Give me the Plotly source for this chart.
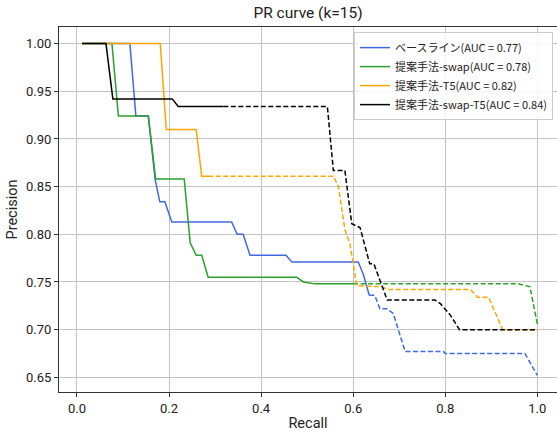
import plotly.graph_objects as go

# ---- data ----
labels = ["ベースライン(AUC = 0.77)", "提案手法-swap(AUC = 0.78)",
          "提案手法-T5(AUC = 0.82)", "提案手法-swap-T5(AUC = 0.84)"]

base_r_solid = [0.011, 0.115, 0.128, 0.155, 0.170, 0.180, 0.191, 0.206, 0.336, 0.348, 0.361, 0.376,
                0.454, 0.467, 0.611, 0.622, 0.635]
base_p_solid = [1.0, 1.0, 0.924, 0.924, 0.857, 0.834, 0.834, 0.813, 0.813, 0.800, 0.800, 0.778,
                0.778, 0.771, 0.771, 0.758, 0.736]
base_r_dash = [0.635, 0.647, 0.658, 0.673, 0.687, 0.713, 0.796, 0.800, 0.973, 1.0]
base_p_dash = [0.736, 0.736, 0.722, 0.722, 0.717, 0.677, 0.677, 0.675, 0.675, 0.652]

swap_r_solid = [0.011, 0.076, 0.090, 0.155, 0.171, 0.233, 0.246, 0.259, 0.271, 0.285, 0.477, 0.492,
                0.517, 0.600]
swap_p_solid = [1.0, 1.0, 0.924, 0.924, 0.858, 0.858, 0.791, 0.778, 0.778, 0.755, 0.755, 0.750,
                0.748, 0.748]
swap_r_dash = [0.600, 0.959, 0.984, 1.0]
swap_p_dash = [0.748, 0.748, 0.745, 0.706]

t5_r_solid = [0.011, 0.181, 0.194, 0.259, 0.271, 0.285]
t5_p_solid = [1.0, 1.0, 0.910, 0.910, 0.861, 0.861]
t5_r_dash = [0.285, 0.557, 0.568, 0.582, 0.593, 0.600, 0.608, 0.662, 0.676, 0.855, 0.870, 0.894,
             0.925, 1.0]
t5_p_dash = [0.861, 0.861, 0.850, 0.805, 0.790, 0.770, 0.746, 0.745, 0.742, 0.742, 0.734, 0.734,
             0.700, 0.700]

st5_r_solid = [0.011, 0.063, 0.078, 0.207, 0.220, 0.318]
st5_p_solid = [1.0, 1.0, 0.942, 0.942, 0.934, 0.934]
st5_r_dash = [0.318, 0.544, 0.557, 0.582, 0.597, 0.615, 0.636, 0.645, 0.674, 0.778, 0.790, 0.810,
              0.831, 1.0]
st5_p_dash = [0.934, 0.934, 0.867, 0.867, 0.811, 0.807, 0.769, 0.769, 0.731, 0.731, 0.727, 0.716,
              0.700, 0.700]

x_ticks = [0.0, 0.2, 0.4, 0.6, 0.8, 1.0]
y_ticks = [0.65, 0.70, 0.75, 0.80, 0.85, 0.90, 0.95, 1.00]

colors = ["royalblue", "#2ca02c", "orange", "black"]
series = [
    (base_r_solid, base_p_solid, base_r_dash, base_p_dash),
    (swap_r_solid, swap_p_solid, swap_r_dash, swap_p_dash),
    (t5_r_solid, t5_p_solid, t5_r_dash, t5_p_dash),
    (st5_r_solid, st5_p_solid, st5_r_dash, st5_p_dash),
]

fig = go.Figure()
for (rs, ps, rd, pd_), col, lab in zip(series, colors, labels):
    fig.add_trace(go.Scatter(x=rs, y=ps, mode="lines", name=lab,
                             line=dict(color=col, width=1.5)))
    fig.add_trace(go.Scatter(x=rd, y=pd_, mode="lines", showlegend=False,
                             line=dict(color=col, width=1.5, dash="5px,2.5px")))

axis_font = dict(family="Roboto, DejaVu Sans, sans-serif", size=13, color="#222222")
fig.update_layout(
    width=557, height=432,
    margin=dict(l=59, r=0, t=27, b=40, autoexpand=False),
    paper_bgcolor="white", plot_bgcolor="white",
    title=dict(text="PR curve (k=15)", x=0.5, xref="paper", xanchor="center",
               y=0.97, yref="container", yanchor="middle", automargin=False,
               font=dict(family="Roboto, DejaVu Sans, sans-serif", size=15.5, color="#222222")),
    legend=dict(x=0.992, y=0.986, xanchor="right", yanchor="top",
                bgcolor="rgba(255,255,255,0.85)", bordercolor="#cccccc", borderwidth=1,
                font=dict(family="Noto Sans CJK JP, sans-serif", size=11, color="#222222"),
                itemwidth=30, tracegroupgap=0),
    showlegend=True,
)
fig.update_xaxes(range=[-0.039, 1.0428], tickvals=x_ticks, ticktext=[f"{v:.1f}" for v in x_ticks],
                 showgrid=True, gridcolor="#c4c4c4", gridwidth=1, zeroline=False, automargin=False,
                 showline=True, linecolor="#333333", linewidth=1, mirror=True,
                 ticks="outside", ticklen=4, tickcolor="#333333", tickfont=axis_font,
                 title=dict(text="Recall", font=dict(family="Roboto, sans-serif", size=14.5, color="#222222"),
                            standoff=4))
fig.update_yaxes(range=[0.6346, 1.0174], tickvals=y_ticks, ticktext=[f"{v:.2f}" for v in y_ticks],
                 showgrid=True, gridcolor="#c4c4c4", gridwidth=1, zeroline=False, automargin=False,
                 showline=True, linecolor="#333333", linewidth=1, mirror=False,
                 ticks="outside", ticklen=4, tickcolor="#333333", tickfont=axis_font,
                 title=dict(text="Precision", font=dict(family="Roboto, sans-serif", size=14.5, color="#222222"),
                            standoff=4))

fig.write_html("out.html", config={"displayModeBar": False},
               post_script="document.body.style.margin='0';document.body.style.overflow='hidden';")
